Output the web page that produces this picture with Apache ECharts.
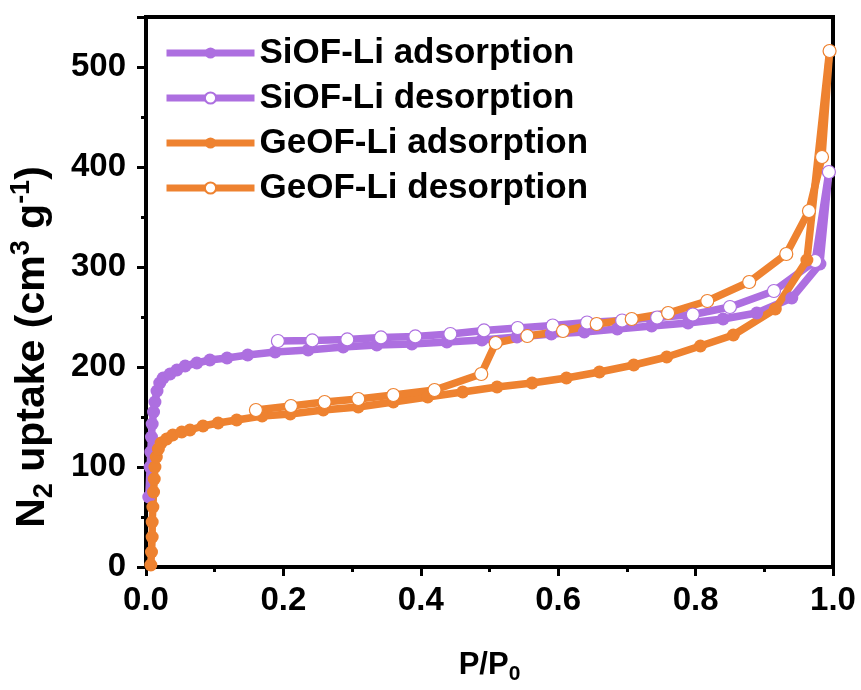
<!DOCTYPE html>
<html>
<head>
<meta charset="utf-8">
<script src="https://cdn.jsdelivr.net/npm/echarts@6/dist/echarts.min.js"></script>
<style>
  html, body { margin: 0; padding: 0; background: #fff; }
  #chart { width: 861px; height: 690px; }
</style>
</head>
<body>
<div id="chart"></div>
<script>
// N2 isotherms at 77 K: relative pressure P/P0 and uptake (cm3 g-1)
const siofAdsP = [0.004, 0.006, 0.007, 0.008, 0.009, 0.011, 0.013, 0.016, 0.02, 0.025, 0.035, 0.045, 0.057, 0.074, 0.093, 0.118, 0.148, 0.188, 0.236, 0.287, 0.336, 0.387, 0.438, 0.489, 0.54, 0.59, 0.638, 0.686, 0.736, 0.789, 0.84, 0.889, 0.94, 0.981, 0.994];
const siofAdsV = [70, 100, 115, 130, 143, 155, 165, 176, 184, 189, 193, 197, 201, 204, 207, 209, 212, 215, 217, 220, 222, 223, 225, 227, 230, 233, 235, 238, 241, 244, 248, 254, 269, 303, 395];

const siofDesP = [0.994, 0.974, 0.914, 0.85, 0.796, 0.744, 0.693, 0.642, 0.592, 0.541, 0.492, 0.443, 0.392, 0.342, 0.293, 0.242, 0.192];
const siofDesV = [395, 306, 276, 260, 252.5, 249.5, 246.5, 244.5, 241.5, 239, 236.6, 233, 230.6, 229.6, 227.6, 226.6, 226];

const geofAdsP = [0.007, 0.008, 0.009, 0.009, 0.01, 0.011, 0.012, 0.013, 0.015, 0.018, 0.022, 0.03, 0.039, 0.052, 0.064, 0.083, 0.105, 0.132, 0.169, 0.21, 0.258, 0.309, 0.36, 0.41, 0.461, 0.511, 0.562, 0.612, 0.66, 0.71, 0.758, 0.807, 0.855, 0.916, 0.962, 0.995];
const geofAdsV = [2, 15, 30, 45, 60, 75, 88, 100, 110, 118, 124, 128, 132, 135, 137, 141, 144, 147, 151, 153, 157, 160, 165, 170, 175, 180, 184, 189, 195, 202, 210, 221, 232, 258, 307, 516];

const geofDesP = [0.995, 0.984, 0.965, 0.932, 0.878, 0.817, 0.76, 0.707, 0.656, 0.607, 0.555, 0.509, 0.488, 0.42, 0.36, 0.309, 0.26, 0.211, 0.16];
const geofDesV = [516, 410, 356, 313, 285, 266, 254, 248, 243, 236, 231, 224, 193, 177, 172, 168, 165, 161, 157];

const xTicks = { min: 0, max: 1, step: 0.2 };
const yTicks = { min: 0, max: 550, step: 100 };

const PURPLE = '#AD6FE0';
const ORANGE = '#EE8230';
const FONT = '"Liberation Sans", Arial, sans-serif';

function pairs(xs, ys) { return xs.map((x, i) => [x, ys[i]]); }

function series(name, xs, ys, color, open) {
  return {
    name: name,
    type: 'line',
    data: pairs(xs, ys),
    symbol: 'circle',
    symbolSize: 13,
    showAllSymbol: true,
    smooth: false,
    animation: false,
    lineStyle: { color: color, width: 7.5 },
    itemStyle: open
      ? { color: '#ffffff', borderColor: color, borderWidth: 1.2 }
      : { color: color, borderWidth: 0 },
    emphasis: { disabled: true }
  };
}

const chart = echarts.init(document.getElementById('chart'), null, { renderer: 'canvas' });

chart.setOption({
  backgroundColor: '#ffffff',
  animation: false,
  textStyle: { fontFamily: FONT },
  grid: {
    left: 146, right: 28, top: 17, bottom: 119,
    show: true, borderColor: '#000', borderWidth: 4, backgroundColor: 'transparent'
  },
  legend: {
    orient: 'vertical',
    left: 163, top: 34,
    padding: 0,
    itemWidth: 88, itemHeight: 14,
    itemGap: 7,
    lineStyle: { width: 7 },
    textStyle: { fontFamily: FONT, fontWeight: 'bold', fontSize: 35, color: '#000', lineHeight: 38 },
    data: ['SiOF-Li adsorption', 'SiOF-Li desorption', 'GeOF-Li adsorption', 'GeOF-Li desorption']
  },
  xAxis: {
    type: 'value',
    min: xTicks.min, max: xTicks.max, interval: xTicks.step,
    name: 'P/P{sub|0}',
    nameLocation: 'middle',
    nameGap: 78,
    nameTextStyle: {
      fontFamily: FONT, fontWeight: 'bold', fontSize: 31, color: '#000', lineHeight: 40,
      rich: { sub: { fontFamily: FONT, fontWeight: 'bold', fontSize: 21, lineHeight: 20, verticalAlign: 'bottom', color: '#000' } }
    },
    axisLine: { onZero: false, lineStyle: { color: '#000', width: 4 } },
    axisTick: { inside: false, length: 9, lineStyle: { color: '#000', width: 3 } },
    minorTick: { show: true, splitNumber: 2, length: 5, lineStyle: { color: '#000', width: 3 } },
    splitLine: { show: false },
    axisLabel: {
      margin: 17, fontFamily: FONT, fontWeight: 'bold', fontSize: 33, color: '#000',
      formatter: v => v.toFixed(1)
    }
  },
  yAxis: {
    type: 'value',
    min: yTicks.min, max: yTicks.max, interval: yTicks.step,
    name: 'N{sub|2} uptake (cm{sup|3} g{sup|-1})',
    nameLocation: 'middle',
    nameGap: 88,
    nameTextStyle: {
      fontFamily: FONT, fontWeight: 'bold', fontSize: 41, color: '#000', lineHeight: 50,
      padding: [0, 110, 0, 0],
      rich: {
        sub: { fontFamily: FONT, fontWeight: 'bold', fontSize: 27, lineHeight: 27, verticalAlign: 'bottom', color: '#000' },
        sup: { fontFamily: FONT, fontWeight: 'bold', fontSize: 27, lineHeight: 27, verticalAlign: 'top', color: '#000' }
      }
    },
    axisLine: { onZero: false, lineStyle: { color: '#000', width: 4 } },
    axisTick: { inside: false, length: 9, lineStyle: { color: '#000', width: 3 } },
    minorTick: { show: true, splitNumber: 2, length: 5, lineStyle: { color: '#000', width: 3 } },
    splitLine: { show: false },
    axisLabel: {
      margin: 20, fontFamily: FONT, fontWeight: 'bold', fontSize: 33, color: '#000',
      showMaxLabel: false
    }
  },
  series: [
    series('SiOF-Li adsorption', siofAdsP, siofAdsV, PURPLE, false),
    series('SiOF-Li desorption', siofDesP, siofDesV, PURPLE, true),
    series('GeOF-Li adsorption', geofAdsP, geofAdsV, ORANGE, false),
    series('GeOF-Li desorption', geofDesP, geofDesV, ORANGE, true)
  ]
});
</script>
</body>
</html>
